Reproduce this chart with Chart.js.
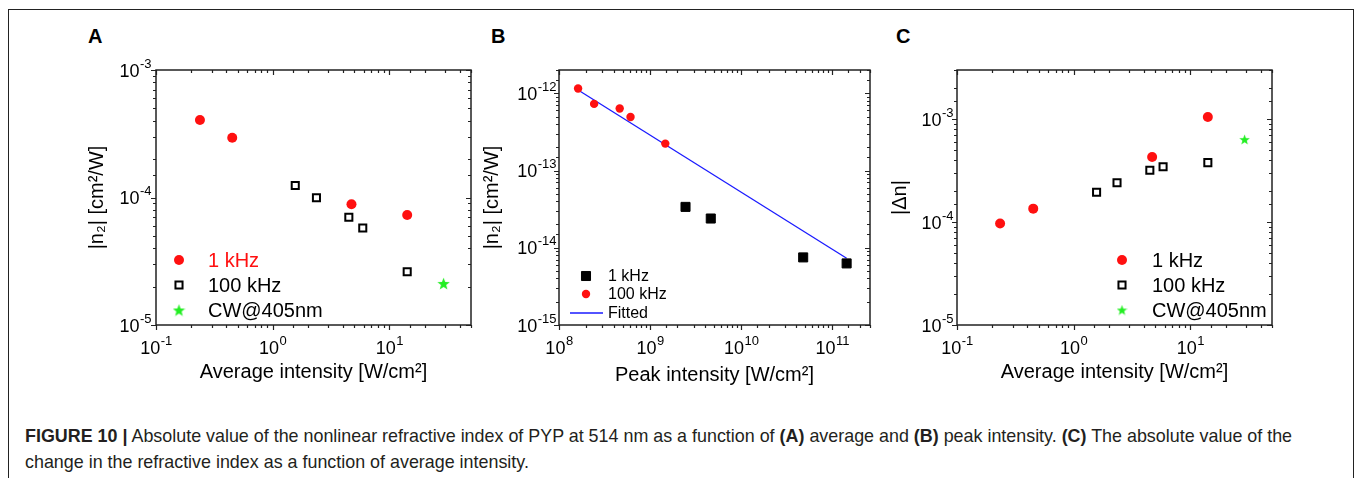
<!DOCTYPE html>
<html>
<head>
<meta charset="utf-8">
<script src="https://cdn.jsdelivr.net/npm/chart.js@4.4.1/dist/chart.umd.min.js"></script>
<style>
  html, body { margin:0; padding:0; background:#fff; }
  body { width:1357px; height:478px; position:relative; overflow:hidden; font-family:'Liberation Sans', Arial, sans-serif; }
  #frame { position:absolute; left:8px; top:9px; width:1346px; height:520px; border:1px solid #222; box-sizing:border-box; }
  canvas { position:absolute; }
  .letter { position:absolute; top:27px; font-size:20px; font-weight:bold; line-height:19px; color:#000; }
  #caption { position:absolute; left:25px; top:423px; font-size:17.9px; line-height:26px; color:#231f20; white-space:nowrap; }
</style>
</head>
<body>
<div id="frame"></div>
<div class="letter" style="left:88px">A</div>
<div class="letter" style="left:491px">B</div>
<div class="letter" style="left:896px">C</div>
<canvas id="cA" width="420" height="360" style="left:70px;top:40px"></canvas>
<canvas id="cB" width="410" height="360" style="left:480px;top:40px"></canvas>
<canvas id="cC" width="420" height="360" style="left:880px;top:40px"></canvas>
<div id="caption"><b>FIGURE 10</b> <b>|</b> Absolute value of the nonlinear refractive index of PYP at 514 nm as a function of <b>(A)</b> average and <b>(B)</b> peak intensity. <b>(C)</b> The absolute value of the<br>change in the refractive index as a function of average intensity.</div>
<script>
// ---------- Panel A data ----------
const aX_1k   = [0.238, 0.45, 4.73, 14.2];
const aY_1k   = [4.06e-4, 2.94e-4, 8.86e-5, 7.3e-5];
const aX_100k = [1.56, 2.37, 4.49, 5.91, 14.2];
const aY_100k = [1.24e-4, 9.96e-5, 7.0e-5, 5.77e-5, 2.62e-5];
const aX_cw   = [29.1];
const aY_cw   = [2.12e-5];
const aXTickVals = [0.1, 1, 10];
const aXTickLabels = ['10^-1', '10^0', '10^1'];
const aYTickVals = [1e-5, 1e-4, 1e-3];
const aYTickLabels = ['10^-5', '10^-4', '10^-3'];

// ---------- Panel B data ----------
const bX_100k = [1.62e8, 2.43e8, 4.64e8, 6.1e8, 1.47e9];
const bY_100k = [1.15e-12, 7.28e-13, 6.34e-13, 4.93e-13, 2.23e-13];
const bX_1k   = [2.45e9, 4.64e9, 4.8e10, 1.44e11];
const bY_1k   = [3.38e-14, 2.39e-14, 7.5e-15, 6.27e-15];
const bX_fit  = [1.62e8, 1.44e11];
const bY_fit  = [1.1e-12, 7.3e-15];
const bXTickVals = [1e8, 1e9, 1e10, 1e11];
const bXTickLabels = ['10^8', '10^9', '10^10', '10^11'];
const bYTickVals = [1e-15, 1e-14, 1e-13, 1e-12];
const bYTickLabels = ['10^-15', '10^-14', '10^-13', '10^-12'];

// ---------- Panel C data ----------
const cX_1k   = [0.234, 0.45, 4.7, 14.1];
const cY_1k   = [9.7e-5, 1.35e-4, 4.28e-4, 1.05e-3];
const cX_100k = [1.57, 2.35, 4.49, 5.83, 14.1];
const cY_100k = [1.95e-4, 2.41e-4, 3.18e-4, 3.45e-4, 3.78e-4];
const cX_cw   = [29.1];
const cY_cw   = [6.35e-4];
const cXTickVals = [0.1, 1, 10];
const cXTickLabels = ['10^-1', '10^0', '10^1'];
const cYTickVals = [1e-5, 1e-4, 1e-3];
const cYTickLabels = ['10^-5', '10^-4', '10^-3'];

const FONT = "'Liberation Sans', Arial, sans-serif";
const RED = '#ff1010', GREEN = '#22ee22', BLUE = '#1a1aff', BLACK = '#000';

function pts(xs, ys) { return xs.map((x, i) => ({x: x, y: ys[i]})); }
function makeStar(size, color) {
  const c = document.createElement('canvas');
  c.width = size; c.height = size;
  const g = c.getContext('2d');
  const cx = size / 2, cy = size / 2, R = size / 2, r = R * 0.42;
  g.beginPath();
  for (let i = 0; i < 10; i++) {
    const rad = (i % 2 === 0) ? R : r;
    const a = -Math.PI / 2 + i * Math.PI / 5;
    const px = cx + rad * Math.cos(a), py = cy + rad * Math.sin(a) + size * 0.05;
    if (i === 0) g.moveTo(px, py); else g.lineTo(px, py);
  }
  g.closePath();
  g.fillStyle = color;
  g.fill();
  return c;
}

// Axis frame, ticks on all four sides and power-of-ten labels, positioned by the library's scales
const frameTicks = {
  id: 'frameTicks',
  afterDatasetsDraw(chart, args, opts) {
    const ctx = chart.ctx, a = chart.chartArea;
    const xs = chart.scales.x, ys = chart.scales.y;
    const isMajor = v => Math.abs(Math.log10(v) - Math.round(Math.log10(v))) < 1e-6;
    ctx.save();
    ctx.strokeStyle = '#222';
    ctx.lineWidth = 1.2;
    xs.ticks.forEach(t => {
      const v = t.value; if (v < xs.min || v > xs.max) return;
      const px = Math.round(xs.getPixelForValue(v)) + 0.5;
      const L = isMajor(v) ? 5 : 3;
      ctx.beginPath();
      ctx.moveTo(px, a.bottom); ctx.lineTo(px, a.bottom + L);
      ctx.moveTo(px, a.top); ctx.lineTo(px, a.top + L);
      ctx.stroke();
    });
    ys.ticks.forEach(t => {
      const v = t.value; if (v < ys.min || v > ys.max) return;
      const py = Math.round(ys.getPixelForValue(v)) + 0.5;
      const L = isMajor(v) ? 5 : 3;
      ctx.beginPath();
      ctx.moveTo(a.left, py); ctx.lineTo(a.left - L, py);
      ctx.moveTo(a.right, py); ctx.lineTo(a.right - L, py);
      ctx.stroke();
    });
    ctx.lineWidth = 1.5;
    ctx.strokeRect(a.left, a.top, a.right - a.left, a.bottom - a.top);

    // tick labels: "10" with a raised exponent
    const baseF = '18px ' + FONT, expF = '13px ' + FONT;
    ctx.fillStyle = '#000';
    ctx.textBaseline = 'alphabetic';
    ctx.textAlign = 'left';
    const parts = s => s.split('^');
    opts.xv.forEach((v, i) => {
      const [b, e] = parts(opts.xl[i]);
      ctx.font = baseF; const wb = ctx.measureText(b).width;
      ctx.font = expF; const we = ctx.measureText(e).width;
      const x0 = xs.getPixelForValue(v) - (wb + we) / 2;
      const yb = a.bottom + 28.5;
      ctx.font = baseF; ctx.fillText(b, x0, yb);
      ctx.font = expF; ctx.fillText(e, x0 + wb + 0.5, yb - 9);
    });
    opts.yv.forEach((v, i) => {
      const [b, e] = parts(opts.yl[i]);
      ctx.font = baseF; const wb = ctx.measureText(b).width;
      ctx.font = expF; const we = ctx.measureText(e).width;
      const x0 = a.left - opts.yGap - wb - we;
      const yb = ys.getPixelForValue(v) + 6.5;
      ctx.font = baseF; ctx.fillText(b, x0, yb);
      ctx.font = expF; ctx.fillText(e, x0 + wb + 0.5, yb - 9);
    });
    ctx.restore();
  }
};

// Legend drawn inside the plot area using the datasets' own point styles
const insideLegend = {
  id: 'insideLegend',
  afterDraw(chart, args, opts) {
    if (!opts || !opts.items) return;
    const ctx = chart.ctx, a = chart.chartArea;
    ctx.save();
    ctx.font = opts.fontSize + 'px ' + FONT;
    ctx.textBaseline = 'middle';
    ctx.textAlign = 'left';
    opts.items.forEach((it, i) => {
      const ds = chart.data.datasets[it.dataset];
      const y = a.top + opts.rows[i];
      const mx = a.left + opts.markerX;
      if (it.line) {
        ctx.strokeStyle = ds.borderColor;
        ctx.lineWidth = ds.borderWidth;
        ctx.beginPath();
        ctx.moveTo(a.left + opts.lineX0, y); ctx.lineTo(a.left + opts.lineX1, y);
        ctx.stroke();
      } else {
        ctx.fillStyle = ds.backgroundColor;
        ctx.strokeStyle = ds.borderColor;
        ctx.lineWidth = ds.pointBorderWidth;
        Chart.helpers.drawPoint(ctx, {pointStyle: ds.pointStyle, radius: ds.pointRadius, rotation: 0, borderWidth: ds.pointBorderWidth}, mx, y);
      }
      ctx.fillStyle = it.textColor;
      ctx.fillText(ds.label, a.left + opts.textX, y + 1);
    });
    ctx.restore();
  }
};

function axes(cfg) {
  return {
    x: {
      type: 'logarithmic', position: 'bottom', min: cfg.xmin, max: cfg.xmax,
      grid: {display: false, drawTicks: false}, border: {display: false},
      ticks: {display: false, autoSkip: false},
      title: {display: true, text: cfg.xt, color: '#000', font: {family: FONT, size: 20},
              padding: {top: 0, bottom: cfg.xtPad}},
      afterFit: s => { s.height = 75; }
    },
    y: {
      type: 'logarithmic', position: 'left', min: cfg.ymin, max: cfg.ymax,
      grid: {display: false, drawTicks: false}, border: {display: false},
      ticks: {display: false, autoSkip: false},
      title: {display: true, text: cfg.yt, color: '#000', font: {family: FONT, size: 20},
              padding: {top: cfg.ytPad, bottom: 0}},
      afterFit: s => { s.width = cfg.yw; }
    }
  };
}

Chart.defaults.font.family = FONT;

// ---------- Chart A ----------
new Chart(document.getElementById('cA'), {
  type: 'scatter',
  data: { datasets: [
    {label: '1 kHz', data: pts(aX_1k, aY_1k), pointStyle: 'circle', pointRadius: 5, pointBorderWidth: 0,
     backgroundColor: RED, borderColor: RED},
    {label: '100 kHz', data: pts(aX_100k, aY_100k), pointStyle: 'rect', pointRadius: 5, pointBorderWidth: 2,
     backgroundColor: '#fff', borderColor: BLACK},
    {label: 'CW@405nm', data: pts(aX_cw, aY_cw), pointStyle: makeStar(13, GREEN), pointRadius: 6, pointBorderWidth: 0,
     backgroundColor: GREEN, borderColor: GREEN}
  ]},
  options: {
    responsive: false, animation: false, devicePixelRatio: 1,
    layout: {padding: {top: 30, right: 19, left: 0, bottom: 0}},
    plugins: {legend: {display: false}, tooltip: {enabled: false},
      frameTicks: {xv: aXTickVals, xl: aXTickLabels, yv: aYTickVals, yl: aYTickLabels, yGap: 5},
      insideLegend: {fontSize: 20, markerX: 23, textX: 52, rows: [190, 215, 240],
        items: [{dataset: 0, textColor: RED}, {dataset: 1, textColor: '#000'}, {dataset: 2, textColor: '#000'}]}},
    scales: axes({xmin: 0.1, xmax: 50, ymin: 1e-5, ymax: 1e-3,
      xt: 'Average intensity [W/cm²]', yt: '|n₂| [cm²/W]', yw: 86, ytPad: 15, xtPad: 16})
  },
  plugins: [frameTicks, insideLegend]
});

// ---------- Chart B ----------
new Chart(document.getElementById('cB'), {
  type: 'scatter',
  data: { datasets: [
    {label: '1 kHz', data: pts(bX_1k, bY_1k), pointStyle: 'rect', pointRadius: 6.4, pointBorderWidth: 1,
     backgroundColor: BLACK, borderColor: BLACK},
    {label: '100 kHz', data: pts(bX_100k, bY_100k), pointStyle: 'circle', pointRadius: 4.2, pointBorderWidth: 0,
     backgroundColor: RED, borderColor: RED},
    {label: 'Fitted', type: 'line', data: pts(bX_fit, bY_fit), showLine: true, pointRadius: 0, borderWidth: 1.3,
     borderColor: BLUE, backgroundColor: BLUE, fill: false}
  ]},
  options: {
    responsive: false, animation: false, devicePixelRatio: 1,
    layout: {padding: {top: 30, right: 20, left: 0, bottom: 0}},
    plugins: {legend: {display: false}, tooltip: {enabled: false},
      frameTicks: {xv: bXTickVals, xl: bXTickLabels, yv: bYTickVals, yl: bYTickLabels, yGap: 3},
      insideLegend: {fontSize: 16, markerX: 27, textX: 49, lineX0: 11, lineX1: 44, rows: [206, 224, 243],
        items: [{dataset: 0, textColor: '#000'}, {dataset: 1, textColor: '#000'}, {dataset: 2, textColor: '#000', line: true}]}},
    scales: axes({xmin: 1e8, xmax: 2.6e11, ymin: 1e-15, ymax: 2e-12,
      xt: 'Peak intensity [W/cm²]', yt: '|n₂| [cm²/W]', yw: 79, ytPad: 0, xtPad: 13})
  },
  plugins: [frameTicks, insideLegend]
});

// ---------- Chart C ----------
new Chart(document.getElementById('cC'), {
  type: 'scatter',
  data: { datasets: [
    {label: '1 kHz', data: pts(cX_1k, cY_1k), pointStyle: 'circle', pointRadius: 5, pointBorderWidth: 0,
     backgroundColor: RED, borderColor: RED},
    {label: '100 kHz', data: pts(cX_100k, cY_100k), pointStyle: 'rect', pointRadius: 5, pointBorderWidth: 2,
     backgroundColor: '#fff', borderColor: BLACK},
    {label: 'CW@405nm', data: pts(cX_cw, cY_cw), pointStyle: makeStar(11, GREEN), pointRadius: 5, pointBorderWidth: 0,
     backgroundColor: GREEN, borderColor: GREEN}
  ]},
  options: {
    responsive: false, animation: false, devicePixelRatio: 1,
    layout: {padding: {top: 30, right: 28, left: 0, bottom: 0}},
    plugins: {legend: {display: false}, tooltip: {enabled: false},
      frameTicks: {xv: cXTickVals, xl: cXTickLabels, yv: cYTickVals, yl: cYTickLabels, yGap: 4},
      insideLegend: {fontSize: 20, markerX: 165, textX: 195, rows: [190, 215, 240],
        items: [{dataset: 0, textColor: '#000'}, {dataset: 1, textColor: '#000'}, {dataset: 2, textColor: '#000'}]}},
    scales: axes({xmin: 0.1, xmax: 50, ymin: 1e-5, ymax: 3e-3,
      xt: 'Average intensity [W/cm²]', yt: '|Δn|', yw: 77, ytPad: 8, xtPad: 16})
  },
  plugins: [frameTicks, insideLegend]
});
</script>
</body>
</html>
